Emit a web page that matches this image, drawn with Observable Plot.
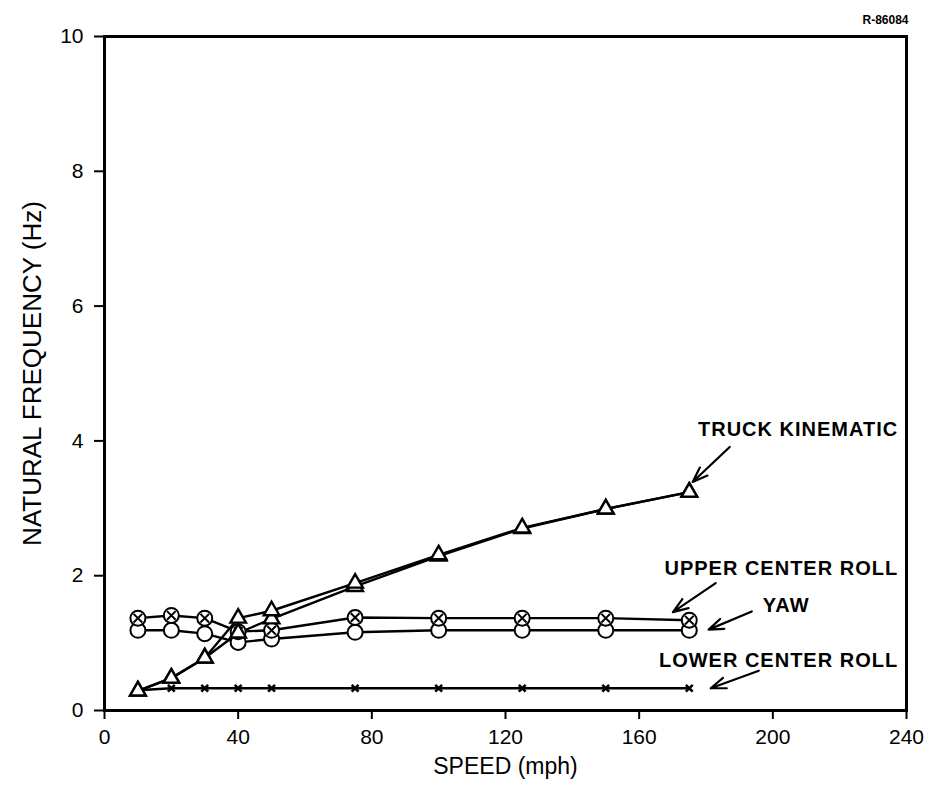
<!DOCTYPE html>
<html>
<head>
<meta charset="utf-8">
<script src="https://cdn.jsdelivr.net/npm/d3@7"></script>
<script src="https://cdn.jsdelivr.net/npm/@observablehq/plot@0.6"></script>
<style>
  html, body { margin: 0; padding: 0; background: #fff; }
  #chart svg { display: block; }
</style>
</head>
<body>
<div id="chart"></div>
<script>
// Vehicle speed (mph) at which each natural frequency was computed
const speed = [10, 20, 30, 40, 50, 75, 100, 125, 150, 175];

// Natural frequency (Hz) for each mode
const truckKinematicA = [0.29, 0.48, 0.78, 1.37, 1.48, 1.89, 2.31, 2.71, 2.99, 3.24];
const truckKinematicB = [0.29, 0.48, 0.78, 1.15, 1.36, 1.84, 2.29, 2.70, 2.99, 3.24];
const upperCenterRoll = [1.37, 1.41, 1.37, 1.17, 1.19, 1.38, 1.37, 1.37, 1.37, 1.34];
const yaw             = [1.19, 1.19, 1.14, 1.01, 1.06, 1.16, 1.19, 1.19, 1.19, 1.19];
const lowerCenterRoll = [0.30, 0.33, 0.33, 0.33, 0.33, 0.33, 0.33, 0.33, 0.33, 0.33];

// Axis ticks
const xTicks = [0, 40, 80, 120, 160, 200, 240];
const yTicks = [0, 2, 4, 6, 8, 10];

// Mode names with leader arrows (label anchor and arrow ends in data units)
const labelText = ["TRUCK KINEMATIC", "UPPER CENTER ROLL", "YAW", "LOWER CENTER ROLL"];
const labelX = [237.5, 237.5, 197, 237.5];
const labelY = [4.17, 2.11, 1.56, 0.74];
const labelAnchor = ["end", "end", "start", "end"];
const arrowFrom = [[187.1, 3.91], [182.9, 1.89], [193.7, 1.47], [195.8, 0.59]];
const arrowTo = [[176.0, 3.39], [170.1, 1.46], [180.8, 1.20], [181.4, 0.33]];

const rows = (ys) => speed.map((s, i) => ({speed: s, f: ys[i]}));
const kinA = rows(truckKinematicA);
const kinB = rows(truckKinematicB);
const upper = rows(upperCenterRoll);
const yawRows = rows(yaw);
const lower = rows(lowerCenterRoll);

const labels = labelText.map((t, i) => ({text: t, x: labelX[i], y: labelY[i], anchor: labelAnchor[i]}));
const arrows = arrowFrom.map((p, i) => ({x1: p[0], y1: p[1], x2: arrowTo[i][0], y2: arrowTo[i][1]}));

const font = "'Liberation Sans', Arial, Helvetica, sans-serif";
const lineOpts = {x: "speed", y: "f", stroke: "black", strokeWidth: 2.4};

const chart = Plot.plot({
  width: 934,
  height: 787,
  marginLeft: 104,
  marginRight: 28,
  marginTop: 36,
  marginBottom: 77,
  style: {fontFamily: font, fontSize: "21px", color: "black", background: "white"},
  x: {domain: [0, 240]},
  y: {domain: [0, 10]},
  marks: [
    Plot.axisX({ticks: xTicks, tickSize: 9, tickPadding: 10, strokeWidth: 2, label: null, fontSize: 21}),
    Plot.axisY({ticks: yTicks, tickSize: 10, tickPadding: 11, strokeWidth: 2, label: null, fontSize: 21}),
    Plot.frame({stroke: "black", strokeWidth: 3}),

    // Curves
    Plot.line(lower, lineOpts),
    Plot.line(yawRows, lineOpts),
    Plot.line(upper, lineOpts),
    Plot.line(kinB, lineOpts),
    Plot.line(kinA, lineOpts),

    // Markers
    Plot.dot(lower, {x: "speed", y: "f", symbol: "times", r: 3.2, stroke: "black", strokeWidth: 2.6}),
    Plot.dot(yawRows, {x: "speed", y: "f", symbol: "circle", r: 7.5, fill: "white", stroke: "black", strokeWidth: 2}),
    Plot.dot(upper, {x: "speed", y: "f", symbol: "circle", r: 7.5, fill: "white", stroke: "black", strokeWidth: 2}),
    Plot.dot(upper, {x: "speed", y: "f", symbol: "times", r: 4, stroke: "black", strokeWidth: 2}),
    Plot.dot(kinB, {x: "speed", y: "f", symbol: "triangle", r: 5.8, fill: "white", stroke: "black", strokeWidth: 2.4}),
    Plot.dot(kinA, {x: "speed", y: "f", symbol: "triangle", r: 5.8, fill: "white", stroke: "black", strokeWidth: 2.4}),

    // Mode labels and leader arrows
    Plot.arrow(arrows, {x1: "x1", y1: "y1", x2: "x2", y2: "y2", stroke: "black", strokeWidth: 2.2, headLength: 11, headAngle: 40}),
    Plot.text(labels.filter(d => d.anchor === "end"), {x: "x", y: "y", text: "text", textAnchor: "end", fontSize: 20, fontWeight: "bold", fill: "black"}),
    Plot.text(labels.filter(d => d.anchor === "start"), {x: "x", y: "y", text: "text", textAnchor: "start", fontSize: 20, fontWeight: "bold", fill: "black"}),

    // Axis titles and drawing number
    Plot.text(["SPEED (mph)"], {frameAnchor: "bottom", dy: 63, fontSize: 23, fill: "black"}),
    Plot.text(["NATURAL FREQUENCY (Hz)"], {frameAnchor: "left", textAnchor: "middle", dx: -72, rotate: -90, fontSize: 26, fill: "black"}),
    Plot.text(["R-86084"], {frameAnchor: "top-right", textAnchor: "end", dx: 2, dy: -21, fontSize: 12, fontWeight: "bold", fill: "black"})
  ]
});

// Wider letter spacing for the mode names
d3.select(chart).selectAll("text")
  .filter(function() { return labelText.includes(this.textContent); })
  .style("letter-spacing", "1px");

document.getElementById("chart").append(chart);
</script>
</body>
</html>
